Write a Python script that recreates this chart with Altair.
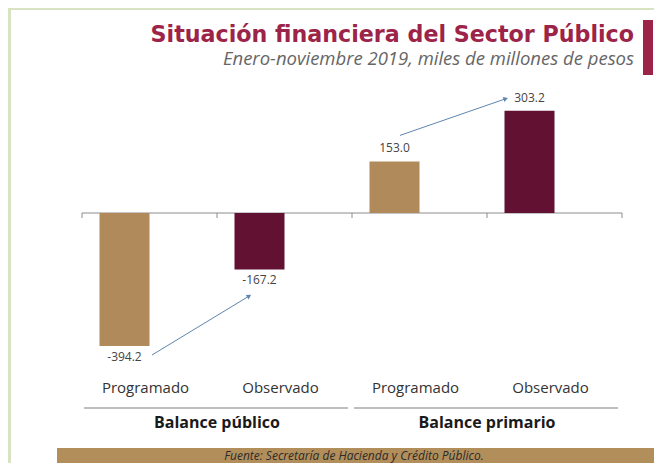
import altair as alt
import pandas as pd

# ---- data ----
grupos = ["Balance público", "Balance público", "Balance primario", "Balance primario"]
series = ["Programado", "Observado", "Programado", "Observado"]
valores = [-394.2, -167.2, 153.0, 303.2]
claves = [f"{s} | {g}" for s, g in zip(series, grupos)]

titulo = "Situación financiera del Sector Público"
subtitulo = "Enero-noviembre 2019, miles de millones de pesos"
fuente = "Fuente: Secretaría de Hacienda y Crédito Público."

df = pd.DataFrame({
    "clave": claves,
    "grupo": grupos,
    "serie": series,
    "valor": valores,
    "etiqueta": [f"{v:.1f}" for v in valores],
})

grupos_df = pd.DataFrame({
    "grupo": ["Balance público", "Balance primario"],
    "desde": [claves[0], claves[2]],
    "hasta": [claves[1], claves[3]],
})

flechas_df = pd.DataFrame({
    "desde": [claves[0], claves[2]],
    "hasta": [claves[1], claves[3]],
    "v_desde": [valores[0], valores[2]],
    "v_hasta": [valores[1], valores[3]],
})

# ---- styling ----
TAN = "#b08a5a"
MAROON = "#621132"
CRIMSON = "#9d2449"
FONT = "Open Sans"
W, H = 646, 455
K = 0.3374  # px per unit
Y0 = 205

x_scale = alt.Scale(domain=claves, range=[74, 614], paddingInner=0, paddingOuter=0)
y_scale = alt.Scale(domain=[-400, 320], range=[Y0 + 400 * K, Y0 - 320 * K], nice=False, zero=False)

base = alt.Chart(df)

X = lambda bp=0.5, f="clave": alt.X(f"{f}:N", scale=x_scale, axis=None, bandPosition=bp)
Y = lambda f="valor": alt.Y(f"{f}:Q", scale=y_scale, axis=None)

one = alt.Chart(pd.DataFrame({"k": [0]}))

# decorations
panel = one.mark_rect(color="white").encode(
    x=alt.value(3), x2=alt.value(W), y=alt.value(2), y2=alt.value(H))
side_bar = one.mark_rect(color=CRIMSON).encode(
    x=alt.value(635), x2=alt.value(645), y=alt.value(12), y2=alt.value(67))
title_t = one.mark_text(align="right", baseline="alphabetic", font="DejaVu Sans", fontSize=22.2,
                        fontWeight="bold", color=CRIMSON).encode(
    x=alt.value(626), y=alt.value(34), text=alt.datum(titulo))
sub_t = one.mark_text(align="right", baseline="alphabetic", font=FONT, fontSize=18.5,
                      fontStyle="italic", color="#666666").encode(
    x=alt.value(626), y=alt.value(57), text=alt.datum(subtitulo))
footer = one.mark_rect(color="#b28e5b").encode(
    x=alt.value(49), x2=alt.value(W), y=alt.value(440), y2=alt.value(H))
footer_t = one.mark_text(align="center", baseline="middle", font=FONT, fontSize=12,
                         fontStyle="italic", color="#2b2b2b").encode(
    x=alt.value(346), y=alt.value(448), text=alt.datum(fuente))

# zero line and ticks
zero = alt.Chart(grupos_df.head(1).assign(desde=claves[0], hasta=claves[-1])).mark_rule(
    color="#8c8c8c", strokeWidth=1).encode(
    x=X(0, "desde"), x2=alt.X2("hasta:N", bandPosition=1), y=alt.Y(datum=0, scale=y_scale, axis=None))
ticks = base.mark_rule(color="#8c8c8c", strokeWidth=1, y2Offset=5).encode(
    x=X(0), y=alt.Y(datum=0, scale=y_scale, axis=None), y2=alt.Y2(datum=0))
tick_end = base.transform_filter(alt.datum.clave == claves[-1]).mark_rule(
    color="#8c8c8c", strokeWidth=1, y2Offset=5).encode(
    x=X(1), y=alt.Y(datum=0, scale=y_scale, axis=None), y2=alt.Y2(datum=0))

bars = base.mark_bar(size=50, xOffset=-25).encode(
    x=X(), y=Y(),
    color=alt.Color("serie:N", scale=alt.Scale(domain=["Programado", "Observado"],
                                               range=[TAN, MAROON]), legend=None))

lab_neg = base.transform_filter(alt.datum.valor < 0).mark_text(
    baseline="top", dy=6, xOffset=-25, font=FONT, fontSize=12, color="#444444").encode(
    x=X(), y=Y(), text="etiqueta:N")
lab_pos = base.transform_filter(alt.datum.valor >= 0).mark_text(
    baseline="bottom", dy=-6, xOffset=-25, font=FONT, fontSize=12, color="#444444").encode(
    x=X(), y=Y(), text="etiqueta:N")

cat_lab = base.mark_text(baseline="middle", xOffset=-4, font=FONT, fontSize=15,
                         color="#333333").encode(
    x=X(), y=alt.value(380), text="serie:N")

grp_line = alt.Chart(grupos_df).mark_rule(color="#a8a8a8", strokeWidth=1.5,
                                         xOffset=2, x2Offset=-4).encode(
    x=X(0, "desde"), x2=alt.X2("hasta:N", bandPosition=1), y=alt.value(400))
grp_lab = alt.Chart(grupos_df).mark_text(baseline="middle", font=FONT, fontSize=16,
                                        fontWeight="bold", color="#1a1a1a").encode(
    x=X(0, "hasta"), y=alt.value(415), text="grupo:N")

ARROW = "#5f86ad"
f1 = alt.Chart(flechas_df.iloc[[0]])
f2 = alt.Chart(flechas_df.iloc[[1]])
arr1 = f1.mark_rule(color=ARROW, strokeWidth=1, xOffset=2.5, yOffset=9,
                    x2Offset=-36, y2Offset=27).encode(
    x=X(0.5, "desde"), x2=alt.X2("hasta:N"),
    y=Y("v_desde"), y2=alt.Y2("v_hasta:Q"))
head1 = f1.mark_point(shape="triangle", filled=True, size=28, angle=58, color=ARROW, opacity=1,
                      xOffset=-36, yOffset=27).encode(x=X(0.5, "hasta"), y=Y("v_hasta"))
arr2 = f2.mark_rule(color=ARROW, strokeWidth=1, xOffset=-19.5, yOffset=-26,
                    x2Offset=-49.5, y2Offset=-11.7).encode(
    x=X(0.5, "desde"), x2=alt.X2("hasta:N"),
    y=Y("v_desde"), y2=alt.Y2("v_hasta:Q"))
head2 = f2.mark_point(shape="triangle", filled=True, size=28, angle=71, color=ARROW, opacity=1,
                      xOffset=-49.5, yOffset=-11.7).encode(x=X(0.5, "hasta"), y=Y("v_hasta"))

chart = alt.layer(
    panel, side_bar, title_t, sub_t, footer, footer_t,
    zero, ticks, tick_end, bars, lab_neg, lab_pos, cat_lab, grp_line, grp_lab,
    arr1, head1, arr2, head2,
).properties(
    width=W, height=H, autosize=alt.AutoSizeParams(type="none"), padding=0,
    background="#d8e4c1",
).configure_view(stroke=None)

chart.save("out.html", embed_options={"renderer": "svg", "actions": False})
